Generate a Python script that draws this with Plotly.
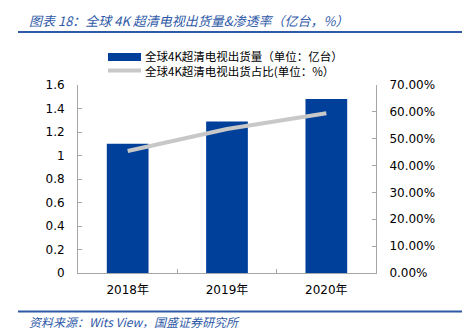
import plotly.graph_objects as go

categories = ["2018年", "2019年", "2020年"]
shipments = [1.10, 1.29, 1.48]           # 亿台
penetration = [0.454, 0.536, 0.595]      # share
left_ticks = [0, 0.2, 0.4, 0.6, 0.8, 1, 1.2, 1.4, 1.6]
left_tick_labels = ["0", "0.2", "0.4", "0.6", "0.8", "1", "1.2", "1.4", "1.6"]
right_ticks = [0, 0.1, 0.2, 0.3, 0.4, 0.5, 0.6, 0.7]
right_tick_labels = ["0.00%", "10.00%", "20.00%", "30.00%", "40.00%", "50.00%", "60.00%", "70.00%"]
legend_names = ["全球4K超清电视出货量（单位：亿台）", "全球4K超清电视出货占比(单位：%）"]
title_text = "图表 18：全球 4K 超清电视出货量&渗透率（亿台，%）"
source_text = "资料来源：Wits View，国盛证券研究所"

BAR = "#00409A"
LINE = "#C8C8C8"
AXIS = "#A6A6A6"
BLUE = "#2F5AA8"
FONT = "DejaVu Sans, Noto Sans CJK SC"
CJK = "Noto Sans CJK SC, DejaVu Sans"

fig = go.Figure()
fig.add_trace(go.Bar(x=categories, y=shipments, marker=dict(color=BAR, line=dict(width=0)),
                     name=legend_names[0], showlegend=False, yaxis="y"))
fig.add_trace(go.Scatter(x=categories, y=penetration, mode="lines",
                         line=dict(color=LINE, width=4), name=legend_names[1],
                         showlegend=False, yaxis="y2"))

W, H = 471, 335
ml, mr, mt, mb = 78, 95, 85, 62

fig.update_layout(
    width=W, height=H,
    margin=dict(l=ml, r=mr, t=mt, b=mb),
    paper_bgcolor="white", plot_bgcolor="white",
    bargap=0.58,
    font=dict(family=FONT, size=12, color="#000000"),
    xaxis=dict(showline=True, linecolor=AXIS, linewidth=1, ticks="inside",
               tickson="boundaries", ticklen=4, tickcolor=AXIS,
               showgrid=False, tickfont=dict(size=12, family=FONT), zeroline=False,
               ticklabelstandoff=6),
    yaxis=dict(range=[0, 1.6], tickvals=left_ticks, ticktext=left_tick_labels,
               showline=True, linecolor=AXIS, linewidth=1, ticks="inside",
               ticklen=4, tickcolor=AXIS, showgrid=False, zeroline=False,
               ticklabelstandoff=10, tickfont=dict(size=12, family=FONT)),
    yaxis2=dict(range=[0, 0.7], tickvals=right_ticks, ticktext=right_tick_labels,
                overlaying="y", side="right", showline=True, linecolor=AXIS,
                linewidth=1, ticks="inside", ticklen=4, tickcolor=AXIS,
                showgrid=False, zeroline=False, ticklabelstandoff=10,
                tickfont=dict(size=12, family=FONT)),
)


def px(x):
    return (x - ml) / (W - ml - mr)


def py(y):
    return (H - mb - y) / (H - mt - mb)


shapes = [
    dict(type="line", xref="paper", yref="paper", x0=px(18), x1=px(462),
         y0=py(32), y1=py(32), line=dict(color="#2E59A6", width=2)),
    dict(type="line", xref="paper", yref="paper", x0=px(18), x1=px(462),
         y0=py(311.5), y1=py(311.5), line=dict(color="#2E59A6", width=2)),
    dict(type="rect", xref="paper", yref="paper", x0=px(108), x1=px(141),
         y0=py(61), y1=py(53), fillcolor=BAR, line=dict(width=0)),
    dict(type="line", xref="paper", yref="paper", x0=px(108), x1=px(141),
         y0=py(70.5), y1=py(70.5), line=dict(color=LINE, width=4)),
]

annotations = [
    dict(text="<i>" + title_text + "</i>", xref="paper", yref="paper",
         x=px(27), y=py(20), xanchor="left", yanchor="middle", showarrow=False,
         font=dict(family=CJK, size=13, color=BLUE)),
    dict(text="<i>" + source_text + "</i>", xref="paper", yref="paper",
         x=px(27), y=py(321), xanchor="left", yanchor="middle", showarrow=False,
         font=dict(family=CJK, size=12, color=BLUE)),
    dict(text=legend_names[0], xref="paper", yref="paper",
         x=px(143), y=py(56.5), xanchor="left", yanchor="middle", showarrow=False,
         font=dict(family=CJK, size=11.5, color="#000000")),
    dict(text=legend_names[1], xref="paper", yref="paper",
         x=px(143), y=py(71.5), xanchor="left", yanchor="middle", showarrow=False,
         font=dict(family=CJK, size=11.5, color="#000000")),
]

fig.update_layout(shapes=shapes, annotations=annotations)
fig.write_html("out.html")
